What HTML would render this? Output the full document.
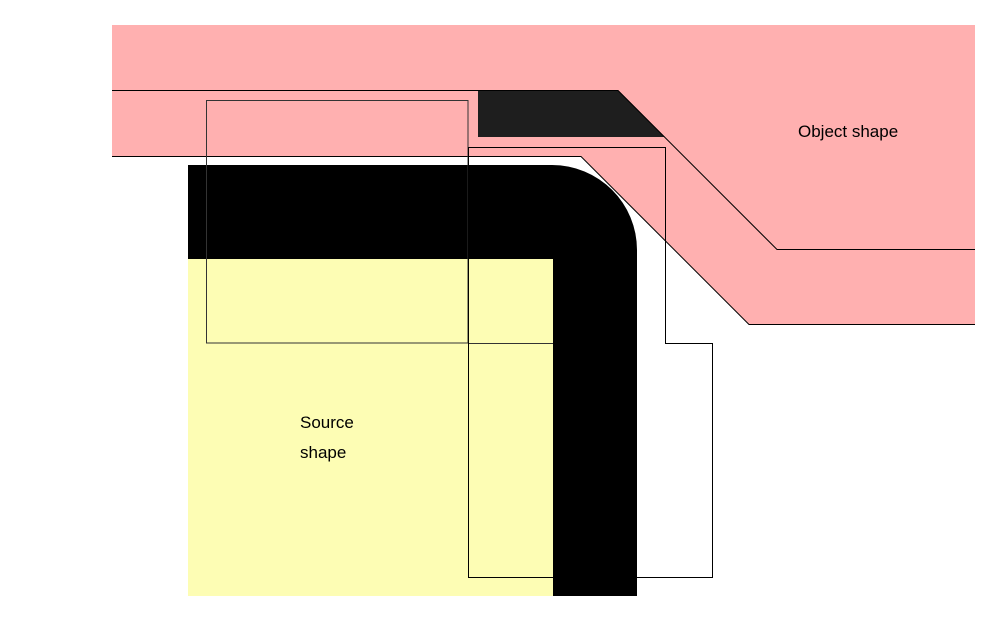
<!DOCTYPE html>
<html><head><style>html,body{margin:0;padding:0;background:#fff;}svg{display:block}</style></head>
<body>
<svg width="985" height="621" viewBox="0 0 985 621" xmlns="http://www.w3.org/2000/svg">
<rect width="985" height="621" fill="#fff"/>
<polygon points="112,25 975,25 975,324 749,324 581,156 112,156" fill="#ffb0b0"/>
<polygon points="478,90 618,90 665,137 478,137" fill="#1e1e1e"/>
<path d="M188,165 H552 A85,85 0 0 1 637,250 V596 H553 V259 H188 Z" fill="#000"/>
<rect x="188" y="259" width="365" height="337" fill="#fdfdb4"/>
<g fill="none" stroke="#000" stroke-width="1">
<path d="M112,90.5 H618 L777,249.5 H975"/>
<path d="M112,156.5 H581 L749,324.5 H975"/>
<rect x="206.5" y="100.5" width="261.5" height="242.5" stroke="#333"/>
<path d="M468.5,343.5 H553" stroke="#333"/>
<path d="M468.5,147.5 H665.5 V343.5 H712.5 V577.5 H468.5 Z"/>
</g>
<g font-family="Liberation Sans, sans-serif" font-size="17" fill="#000">
<text x="300" y="428">Source</text>
<text x="300" y="458">shape</text>
<text x="798" y="137">Object shape</text>
</g>
</svg>
</body></html>
